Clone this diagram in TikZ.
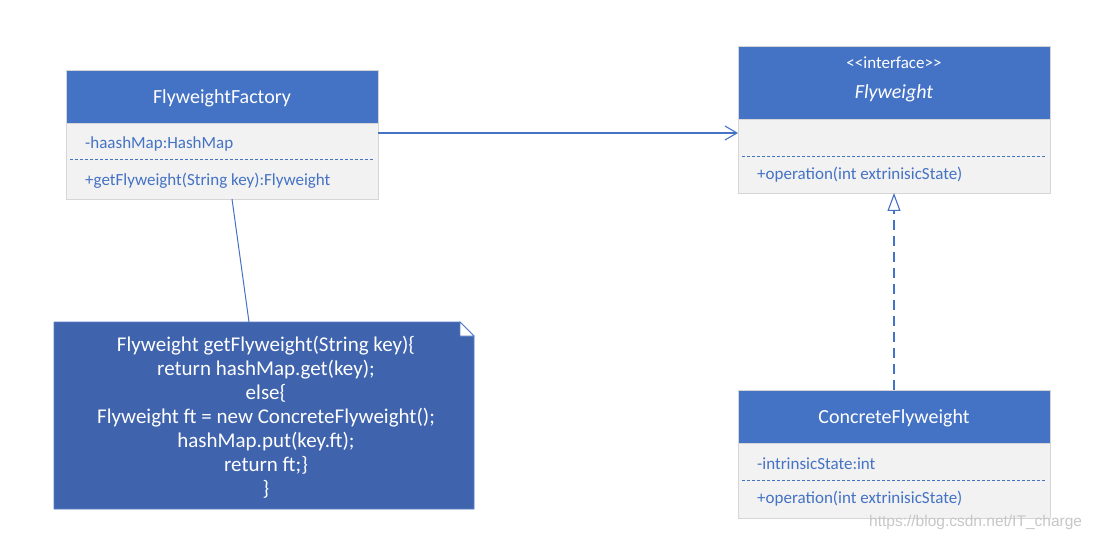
\documentclass[tikz,border=0pt]{standalone}
\usepackage{fontspec}
\setmainfont{Carlito}
\newfontfamily\wmfont{Liberation Sans}
\usetikzlibrary{arrows.meta,calc}
\definecolor{hdr}{HTML}{4472C4}
\definecolor{bodyc}{HTML}{F2F2F2}
\definecolor{edgec}{HTML}{D6D6D6}
\definecolor{notec}{HTML}{3F63AD}
\definecolor{noteedge}{HTML}{5B7FC7}
\definecolor{txtc}{HTML}{4472C4}
\begin{document}
\begin{tikzpicture}[x=1pt,y=-1pt,
  hdrbox/.style={draw=edgec,fill=hdr,anchor=north west,minimum width=312,inner sep=0,outer sep=0,line width=0.8},
  bodybox/.style={draw=edgec,fill=bodyc,anchor=north west,minimum width=312,inner sep=0,outer sep=0,line width=0.8},
  title/.style={text=white,font=\fontsize{20}{24}\selectfont,inner sep=0},
  member/.style={text=txtc,font=\fontsize{17}{20}\selectfont,anchor=west,inner sep=0},
  sep/.style={draw=txtc,dash pattern=on 3 off 2,line width=0.8},
  conn/.style={draw=txtc,line width=1.1},
  notetext/.style={text=white,font=\fontsize{21}{24}\selectfont,align=center,inner sep=0}
]
\useasboundingbox (0,0) rectangle (1095,540);
\fill[white] (0,0) rectangle (1095,540);

% FlyweightFactory
\node[hdrbox,minimum height=53] (fh) at (66,70) {};
\node[bodybox,minimum height=76] (fb) at (66,123) {};
\node[title] (ft) at ($(fh.center)+(0,2)$) {FlyweightFactory};
\node[member] (fa) at (85,144) {-haashMap:HashMap};
\node[member] (fm) at (85,181) {+getFlyweight(String key):Flyweight};
\draw[sep] ($(fb.west)+(4,-2)$) coordinate (fs1) -- ($(fb.east)+(-4,-2)$) coordinate (fs2);

% Flyweight interface
\node[hdrbox,minimum height=73] (ih) at (738,46) {};
\node[bodybox,minimum height=74] (ib) at (738,119) {};
\node[text=white,font=\fontsize{17}{20}\selectfont,inner sep=0] (is) at (894,63) {{<}{<}interface{>}{>}};
\node[title,font=\fontsize{20}{24}\selectfont\itshape] (it) at (894,93) {Flyweight};
\draw[sep] ($(ib.west)+(4,0)$) -- ($(ib.east)+(-4,0)$);
\node[member] (im) at (757,175) {+operation(int extrinisicState)};

% ConcreteFlyweight
\node[hdrbox,minimum height=53] (ch) at (738,390) {};
\node[bodybox,minimum height=75] (cb) at (738,443) {};
\node[title] (ct) at ($(ch.center)+(0,2)$) {ConcreteFlyweight};
\node[member] (ca) at (757,464) {-intrinsicState:int};
\draw[sep] ($(cb.west)+(4,0)$) -- ($(cb.east)+(-4,0)$);
\node[member] (cm) at (757,499) {+operation(int extrinisicState)};

% Note
\node[anchor=north west,minimum width=420,minimum height=187,inner sep=0,outer sep=0] (note) at (54,322) {};
\filldraw[fill=notec,draw=noteedge,line width=0.8]
  (note.north west) -- ($(note.north east)+(-14,0)$) -- ($(note.north east)+(0,14)$)
  -- (note.south east) -- (note.south west) -- cycle;
\filldraw[fill=white,draw=noteedge,line width=0.8]
  ($(note.north east)+(-14,0)$) -- ($(note.north east)+(-14,14)$) -- ($(note.north east)+(0,14)$) -- cycle;
\node[notetext] (nt) at (266,417) {Flyweight getFlyweight(String key)\{\\
return hashMap.get(key);\\
else\{\\
Flyweight ft = new ConcreteFlyweight();\\
hashMap.put(key.ft);\\
return ft;\}\\
\}};

% Connectors
\draw[conn,-{Straight Barb[length=12,width=14,line width=1.1]}]
  ($(fb.north east)+(0,10)$) -- ($(ib.north west)+(0,14)$);
\draw[conn,line width=1] ($(fb.south)+(10,0)$) -- ($(note.north)+(-15,0)$);
\draw[conn,dash pattern=on 10 off 6,-{Triangle[open,length=18,width=13,line width=1.1]}]
  (ch.north) -- (ib.south);

% watermark
\node[text=black!22,font=\wmfont\fontsize{15.5}{18}\selectfont,anchor=west,inner sep=0] (wm) at (869,522) {https://blog.csdn.net/IT\_charge};
\end{tikzpicture}
\end{document}
